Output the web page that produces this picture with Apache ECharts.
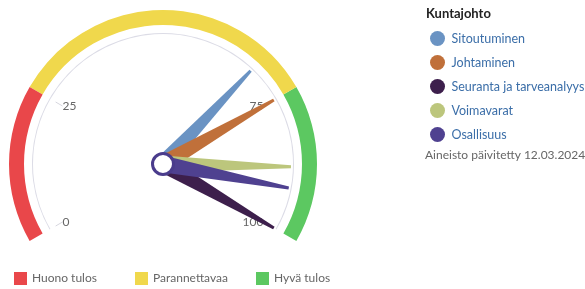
<!DOCTYPE html>
<html><head><meta charset="utf-8">
<script src="https://cdn.jsdelivr.net/npm/echarts@6/dist/echarts.min.js"></script>
<style>html,body{margin:0;padding:0;background:#fff}#c{width:585px;height:289px}</style>
</head><body><div id="c"></div>
<script>
const seriesNames = ['Sitoutuminen', 'Johtaminen', 'Seuranta ja tarveanalyysi', 'Voimavarat', 'Osallisuus'];
const seriesValues = [68, 75, 100, 88, 92];
const seriesColors = ['#6a93c3', '#c0703a', '#3d1f4c', '#bcc67c', '#4f4190'];
const bandNames = ['Huono tulos', 'Parannettavaa', 'Hyvä tulos'];
const bandLimits = [25, 75, 100];
const bandColors = ['#e9474a', '#f0d84c', '#5cc861'];
const tickLabels = [0, 25, 75, 100];
const titleText = 'Kuntajohto';
const dateText = 'Aineisto päivitetty 12.03.2024';

const FONT = 'Lato';
const C = [163, 164];
const START = 210, END = -30;
const ang = v => START - (START - END) * v / 100;

const series = [];
// colored band
series.push({
  type: 'gauge', center: C, radius: 154, startAngle: START, endAngle: END, min: 0, max: 100,
  axisLine: { lineStyle: { width: 15, color: bandLimits.map((l, i) => [l / 100, bandColors[i]]) } },
  axisTick: { show: false }, splitLine: { show: false }, axisLabel: { show: false },
  pointer: { show: false }, detail: { show: false }, title: { show: false }, data: []
});
// thin inner arc
series.push({
  type: 'gauge', center: C, radius: 131, startAngle: START, endAngle: END, min: 0, max: 100,
  axisLine: { lineStyle: { width: 1, color: [[1, '#dcdce6']] } },
  axisTick: { show: false }, splitLine: { show: false }, axisLabel: { show: false },
  pointer: { show: false }, detail: { show: false }, title: { show: false }, data: []
});
// tick labels, in pairs of segments
for (let i = 0; i < tickLabels.length; i += 2) {
  const a = tickLabels[i], b = tickLabels[i + 1];
  series.push({
    type: 'gauge', center: C, radius: 134, startAngle: ang(a), endAngle: ang(b), min: a, max: b,
    splitNumber: 1,
    axisLine: { show: false },
    axisTick: { show: false },
    splitLine: { show: true, length: 8, distance: 0, lineStyle: { color: '#d6d6de', width: 1 } },
    axisLabel: { show: true, distance: 10, color: '#666', fontSize: 12, fontFamily: FONT },
    pointer: { show: false }, detail: { show: false }, title: { show: false }, data: []
  });
}
// needles
seriesNames.forEach((n, i) => {
  const last = i === seriesNames.length - 1;
  series.push({
    name: n, type: 'gauge', center: C, radius: 128, startAngle: START, endAngle: END, min: 0, max: 100,
    itemStyle: { color: seriesColors[i] },
    axisLine: { show: false }, axisTick: { show: false }, splitLine: { show: false }, axisLabel: { show: false },
    pointer: { show: true, length: 128, width: 17, icon: 'path://M4.1,0 L5.9,0 L10,100 L0,100 Z', itemStyle: { color: seriesColors[i] } },
    anchor: { show: last, showAbove: true, size: 21, itemStyle: { color: '#fff', borderColor: '#4a3c8c', borderWidth: 3 } },
    detail: { show: false }, title: { show: false },
    data: [{ value: seriesValues[i], name: n }]
  });
});
// band legend carriers
bandNames.forEach((n, i) => {
  series.push({
    name: n, type: 'gauge', center: C, radius: 1, itemStyle: { color: bandColors[i] },
    axisLine: { show: false }, axisTick: { show: false }, splitLine: { show: false }, axisLabel: { show: false },
    pointer: { show: false }, detail: { show: false }, title: { show: false }, data: []
  });
});

const bandLegendLeft = [9, 130, 251];
const legends = [{
  orient: 'vertical', left: 425, top: 26, itemGap: 9, icon: 'circle', itemWidth: 18, itemHeight: 15,
  textStyle: { color: '#3b6ea8', fontSize: 12.5, fontFamily: FONT },
  data: seriesNames
}];
bandNames.forEach((n, i) => legends.push({
  left: bandLegendLeft[i], top: 267, icon: 'rect', itemWidth: 13, itemHeight: 13, itemGap: 5,
  textStyle: { color: '#666', fontSize: 12, fontFamily: FONT }, data: [n], selectedMode: false
}));

const chart = echarts.init(document.getElementById('c'));
chart.setOption({
  animation: false,
  title: { text: titleText, left: 421, top: 2, textStyle: { fontSize: 13, fontWeight: 'bold', color: '#222', fontFamily: FONT } },
  legend: legends,
  graphic: [{ type: 'text', left: 425, top: 149, style: { text: dateText, fill: '#666', fontSize: 12, fontFamily: FONT } }],
  series
});
</script></body></html>
